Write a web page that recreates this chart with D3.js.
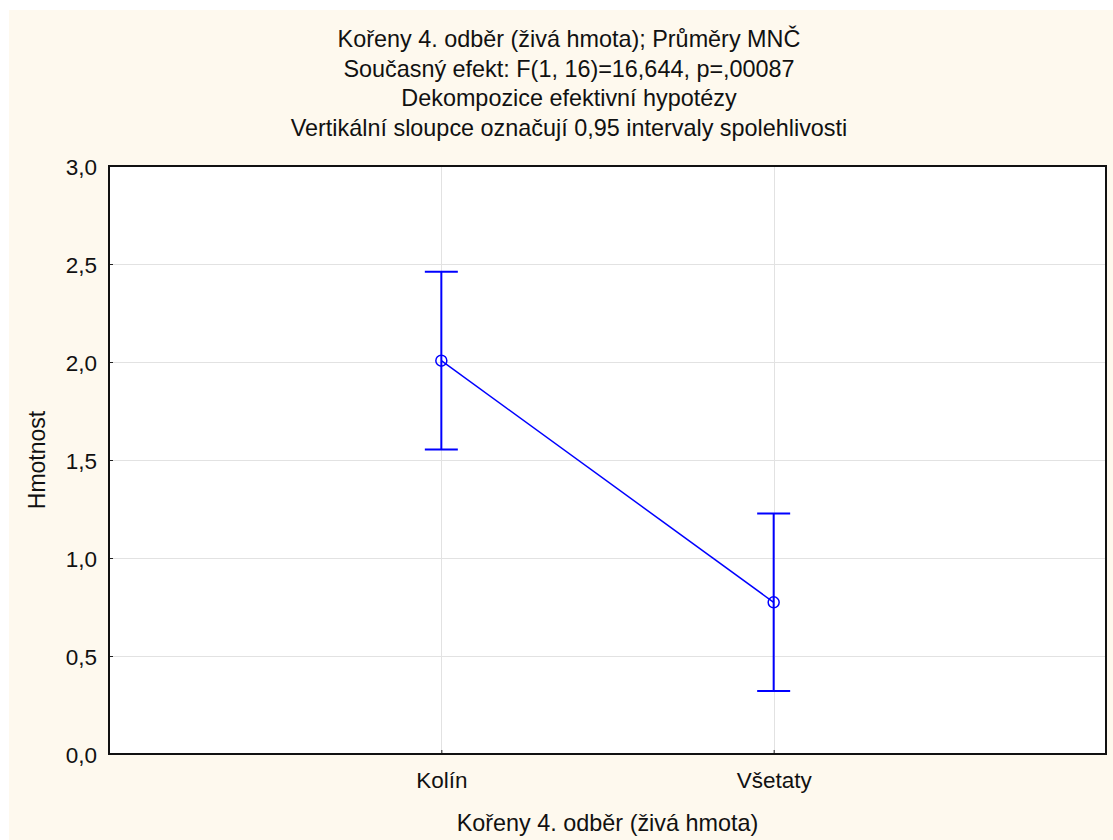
<!DOCTYPE html>
<html>
<head>
<meta charset="utf-8">
<script src="https://cdn.jsdelivr.net/npm/d3@7"></script>
<style>
  html, body { margin: 0; padding: 0; background: #ffffff; }
  svg { display: block; }
  text { font-family: "Liberation Sans", Arial, sans-serif; fill: #111; }
</style>
</head>
<body>
<script>
// Site means with 0.95 confidence intervals
const categories = ["Kolín", "Všetaty"];
const means = [2.007, 0.774];
const ciHalf = [0.453, 0.453];
const yTicks = [0, 0.5, 1.0, 1.5, 2.0, 2.5, 3.0];
const titleLines = [
  "Kořeny 4. odběr (živá hmota); Průměry MNČ",
  "Současný efekt: F(1, 16)=16,644, p=,00087",
  "Dekompozice efektivní hypotézy",
  "Vertikální sloupce označují 0,95 intervaly spolehlivosti"
];
const xTitle = "Kořeny 4. odběr (živá hmota)";
const yTitle = "Hmotnost";

const W = 1113, H = 840;
const plot = { left: 109, top: 166, right: 1106, bottom: 754 };
const blue = "#0000ff";

const svg = d3.select("body").append("svg").attr("width", W).attr("height", H);

// cream panel behind everything
svg.append("rect").attr("x", 9).attr("y", 10).attr("width", W - 9).attr("height", H - 10)
  .attr("fill", "#fef9ee");

const x = d3.scalePoint().domain(categories).range([plot.left, plot.right]).padding(1);
const y = d3.scaleLinear().domain([0, 3]).range([plot.bottom, plot.top]);

svg.append("rect").attr("x", plot.left).attr("y", plot.top)
  .attr("width", plot.right - plot.left).attr("height", plot.bottom - plot.top)
  .attr("fill", "#ffffff");

// grid
const grid = svg.append("g").attr("stroke", "#e2e2e2").attr("stroke-width", 1);
grid.selectAll("line.h").data(yTicks.slice(1, -1)).join("line")
  .attr("x1", plot.left).attr("x2", plot.right)
  .attr("y1", d => Math.round(y(d)) + 0.5).attr("y2", d => Math.round(y(d)) + 0.5);
grid.selectAll("line.v").data(categories).join("line")
  .attr("y1", plot.top).attr("y2", plot.bottom)
  .attr("x1", d => Math.round(x(d)) + 0.5).attr("x2", d => Math.round(x(d)) + 0.5);

// axes (ticks point inward)
const fmt = d => d3.format(".1f")(d).replace(".", ",");
const yAxis = d3.axisLeft(y).tickValues(yTicks).tickFormat(fmt).tickSizeInner(-4).tickSizeOuter(0).tickPadding(12);
const xAxis = d3.axisBottom(x).tickSizeInner(-4).tickSizeOuter(0).tickPadding(12);

const gy = svg.append("g").attr("transform", `translate(${plot.left},0)`).call(yAxis);
const gx = svg.append("g").attr("transform", `translate(0,${plot.bottom})`).call(xAxis);
[gy, gx].forEach(g => {
  g.select(".domain").remove();
  g.selectAll(".tick line").attr("stroke", "#222").attr("stroke-width", 1);
  g.selectAll(".tick text").attr("font-size", 22.5).attr("fill", "#111")
    .attr("font-family", "Liberation Sans, Arial, sans-serif");
});
gy.selectAll(".tick text").attr("dy", "0.36em");
gx.selectAll(".tick text").attr("dy", 0).attr("y", 788 - plot.bottom);

// frame
svg.append("rect").attr("x", plot.left).attr("y", plot.top)
  .attr("width", plot.right - plot.left).attr("height", plot.bottom - plot.top)
  .attr("fill", "none").attr("stroke", "#111").attr("stroke-width", 2);

// titles
svg.append("g").selectAll("text").data(titleLines).join("text")
  .attr("x", 569).attr("y", (d, i) => 47 + i * 29.5)
  .attr("text-anchor", "middle").attr("font-size", 23.4).text(d => d);

svg.append("text").attr("x", (plot.left + plot.right) / 2).attr("y", 831)
  .attr("text-anchor", "middle").attr("font-size", 23.4).text(xTitle);

svg.append("text").attr("transform", `translate(45,${(plot.top + plot.bottom) / 2}) rotate(-90)`)
  .attr("text-anchor", "middle").attr("font-size", 23).text(yTitle);

// data
const pts = categories.map((c, i) => ({ c, m: means[i], h: ciHalf[i] }));

svg.append("path").datum(pts)
  .attr("fill", "none").attr("stroke", blue).attr("stroke-width", 1.5)
  .attr("d", d3.line().x(d => x(d.c)).y(d => y(d.m)));

const eb = svg.append("g").attr("stroke", blue).attr("stroke-width", 2).attr("fill", "none");
pts.forEach(d => {
  const cx = x(d.c);
  eb.append("line").attr("x1", cx).attr("x2", cx).attr("y1", y(d.m + d.h)).attr("y2", y(d.m - d.h));
  [d.m + d.h, d.m - d.h].forEach(v => {
    eb.append("line").attr("x1", cx - 16.5).attr("x2", cx + 16.5).attr("y1", y(v)).attr("y2", y(v));
  });
});

svg.append("g").selectAll("circle").data(pts).join("circle")
  .attr("cx", d => x(d.c)).attr("cy", d => y(d.m)).attr("r", 5.5)
  .attr("fill", "none").attr("stroke", blue).attr("stroke-width", 1.5);
</script>
</body>
</html>
